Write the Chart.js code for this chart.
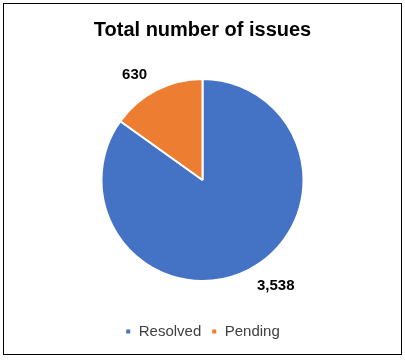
<!DOCTYPE html>
<html>
<head>
<meta charset="utf-8">
<script src="https://cdn.jsdelivr.net/npm/chart.js@4"></script>
<style>
  html, body { margin: 0; padding: 0; background: #fff; }
  #wrap { width: 405px; height: 360px; }
</style>
</head>
<body>
<div id="wrap"><canvas id="issuesChart" width="405" height="360"></canvas></div>
<script>
// chart data
const categories = ['Resolved', 'Pending'];
const issueCounts = [3538, 630];
const sliceColors = ['#4472C4', '#ED7D31'];

// outer frame like the excel chart border
const framePlugin = {
  id: 'frame',
  beforeDraw(chart) {
    const c = chart.ctx;
    c.save();
    c.fillStyle = '#fff';
    c.fillRect(0, 0, chart.width, chart.height);
    c.strokeStyle = '#000';
    c.lineWidth = 1;
    c.strokeRect(3.5, 3.5, 398, 351);
    c.restore();
  }
};

// value labels outside each slice
const valueLabels = {
  id: 'valueLabels',
  afterDatasetsDraw(chart, args, opts) {
    const c = chart.ctx;
    const meta = chart.getDatasetMeta(0);
    c.save();
    c.font = 'bold 15px "Liberation Sans", Arial, sans-serif';
    c.fillStyle = '#000';
    c.textAlign = 'center';
    c.textBaseline = 'middle';
    meta.data.forEach((arc, i) => {
      const p = arc.getProps(['x', 'y', 'startAngle', 'endAngle', 'outerRadius'], true);
      const mid = (p.startAngle + p.endAngle) / 2 + (opts.shift[i] || 0) * Math.PI / 180;
      const r = p.outerRadius + (opts.gap[i] || 20);
      const val = chart.data.datasets[0].data[i];
      c.fillText(val.toLocaleString('en-US'), p.x + Math.cos(mid) * r, p.y + Math.sin(mid) * r);
    });
    c.restore();
  }
};

const ctx = document.getElementById('issuesChart').getContext('2d');

const issuesChart = new Chart(ctx, {
  type: 'pie',
  data: {
    labels: categories,
    datasets: [{
      data: issueCounts,
      backgroundColor: sliceColors,
      borderColor: '#fff',
      borderWidth: 2,
      radius: 101
    }]
  },
  options: {
    responsive: false,
    animation: false,
    layout: { padding: { top: 0, bottom: 11, left: 0, right: 0 } },
    plugins: {
      title: {
        display: true,
        text: 'Total number of issues',
        color: '#000',
        font: { family: '"Liberation Sans", Arial, sans-serif', size: 20, weight: 'bold' },
        padding: { top: 18, bottom: 4 }
      },
      legend: {
        position: 'bottom',
        labels: {
          usePointStyle: true,
          pointStyle: 'rect',
          boxWidth: 6,
          boxHeight: 6,
          padding: 10,
          color: '#404040',
          font: { family: '"Liberation Sans", Arial, sans-serif', size: 15 }
        }
      },
      tooltip: { enabled: false },
      valueLabels: {
        shift: [-7.4, -5.7],
        gap: [28, 24]
      }
    }
  },
  plugins: [framePlugin, valueLabels]
});
</script>
</body>
</html>
